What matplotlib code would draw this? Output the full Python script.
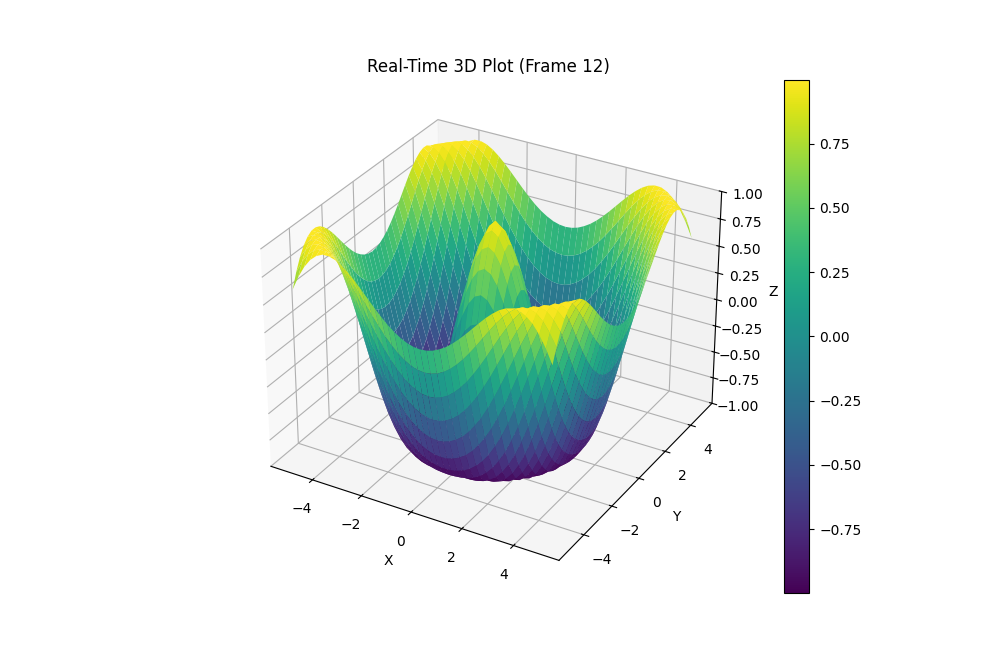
import numpy as np
import matplotlib
matplotlib.use("Agg")
import matplotlib.pyplot as plt

title = "Real-Time 3D Plot (Frame 12)"
x_half = [0.0, 0.25, 0.5, 0.75, 1.0, 1.25, 1.5, 1.75, 2.0, 2.25, 2.5,
          2.75, 3.0, 3.25, 3.5, 3.75, 4.0, 4.25, 4.5, 4.75, 5.0]
# Heights for one eighth of the surface: row i holds columns j = i .. 20
z_upper = [
    [.992, .929, .809, .638, .428, .190, -.058, -.303, -.529, -.722, -.871, -.965, -1.0, -.972, -.883, -.740, -.550, -.327, -.083, .166, .404],
    [.886, .772, .606, .400, .166, -.079, -.320, -.543, -.732, -.877, -.968, -1.0, -.969, -.879, -.735, -.544, -.320, -.076, .173, .410],
    [.670, .514, .318, .096, -.139, -.370, -.581, -.760, -.894, -.977, -.999, -.962, -.865, -.717, -.524, -.299, -.055, .192, .427],
    [.372, .190, -.016, -.233, -.445, -.640, -.801, -.920, -.987, -.997, -.948, -.843, -.688, -.491, -.264, -.021, .224, .456],
    [.028, -.159, -.353, -.543, -.714, -.852, -.949, -.996, -.989, -.926, -.809, -.646, -.445, -.216, .027, .268, .493],
    [-.320, -.489, -.651, -.793, -.905, -.977, -1.0, -.972, -.892, -.761, -.590, -.382, -.153, .087, .323, .540],
    [-.628, -.760, -.871, -.952, -.995, -.992, -.942, -.843, -.700, -.517, -.306, -.076, .159, .387, .595],
    [-.859, -.937, -.987, -.999, -.969, -.896, -.778, -.622, -.431, -.216, .013, .243, .461, .655],
    [-.983, -1.0, -.982, -.926, -.829, -.694, -.524, -.327, -.111, .114, .334, .540, .719],
    [-.985, -.938, -.857, -.740, -.590, -.410, -.209, .007, .224, .433, .623, .783],
    [-.865, -.761, -.628, -.465, -.279, -.076, .134, .341, .535, .707, .845],
    [-.640, -.491, -.320, -.132, .067, .268, .461, .637, .787, .900],
    [-.333, -.160, .027, .217, .404, .579, .734, .859, .947],
    [.013, .192, .369, .540, .694, .823, .921, .981],
    [.358, .519, .667, .797, .898, .967, .998],
    [.659, .783, .884, .955, .995, .996],
    [.878, .949, .991, .998, .968],
    [.990, 1.0, .976, .917],
    [.979, .924, .839],
    [.843, .736],
    [.608],
]
color_low, color_high = -0.998, 0.998

n = len(x_half)
q = np.zeros((n, n))
for i, row in enumerate(z_upper):
    q[i, i:] = row
    q[i:, i] = row
top = np.hstack([q[:, :0:-1], q])
Z = np.vstack([top[:0:-1], top])
h = np.array(x_half)
axis = np.concatenate([-h[:0:-1], h])
X, Y = np.meshgrid(axis, axis)

fig = plt.figure(figsize=(10, 6.66), dpi=100)
ax = fig.add_subplot(111, projection="3d")
surf = ax.plot_surface(X, Y, Z, cmap="viridis", rstride=1, cstride=1,
                       vmin=color_low, vmax=color_high)
ax.set_zlim(-1, 1)
ax.set_xlabel("X")
ax.set_ylabel("Y")
ax.set_zlabel("Z")
ax.set_title(title)
fig.colorbar(surf)
fig.savefig("out.png", dpi=100)
